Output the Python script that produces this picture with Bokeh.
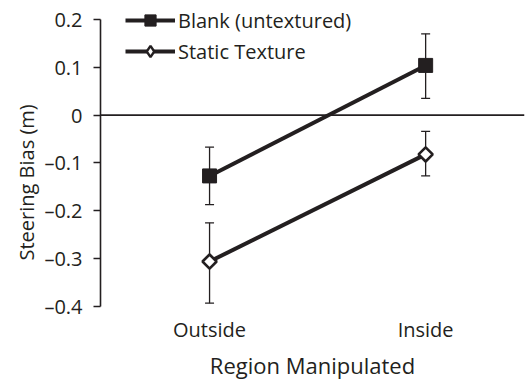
import math
import numpy as np
from bokeh.plotting import figure
from bokeh.models import (ColumnDataSource, Range1d, FixedTicker, CustomJSTickFormatter,
                          Whisker, TeeHead, Span, Legend, LegendItem, Title)
from bokeh.embed import file_html
from bokeh.resources import INLINE

# ---- data ----
regions = ["Outside", "Inside"]
blank = [-0.127, 0.104]
blank_upper = [-0.067, 0.170]
blank_lower = [-0.187, 0.035]
static = [-0.306, -0.082]
static_upper = [-0.225, -0.034]
static_lower = [-0.393, -0.127]
y_ticks = [-0.4, -0.3, -0.2, -0.1, 0, 0.1, 0.2]

INK = "#231f20"
FONT = "Open Sans"

xs = list(range(len(regions)))

p = figure(width=525, height=382, output_backend="svg", toolbar_location=None,
           x_range=Range1d(-0.5047, 1.4575), y_range=Range1d(-0.4, 0.2397),
           min_border_left=100, min_border_right=1, min_border_top=0, min_border_bottom=76)
p.outline_line_color = None
p.grid.visible = False
p.background_fill_color = "white"

# axes
xa = p.xaxis[0]
xa.ticker = FixedTicker(ticks=xs)
xa.major_label_overrides = {i: r for i, r in enumerate(regions)}
xa.axis_line_color = None
xa.major_tick_line_color = None
xa.major_tick_out = 0
xa.major_tick_in = 0
xa.minor_tick_line_color = None
xa.major_label_standoff = 9
xa.major_label_text_font = FONT
xa.major_label_text_font_size = "20px"
xa.major_label_text_color = INK
xa.axis_label = "Region Manipulated"
xa.axis_label_text_font = FONT
xa.axis_label_text_font_size = "22px"
xa.axis_label_text_font_style = "normal"
xa.axis_label_text_color = INK
xa.axis_label_standoff = 4

ya = p.yaxis[0]
ya.ticker = FixedTicker(ticks=y_ticks)
ya.bounds = (-0.4, 0.2)
ya.formatter = CustomJSTickFormatter(code="""
    if (Math.abs(tick) < 1e-9) return "0";
    return tick.toFixed(1).replace("-", "\\u2013");
""")
ya.axis_line_color = INK
ya.axis_line_width = 1.6
ya.major_tick_line_color = INK
ya.major_tick_line_width = 1.6
ya.major_tick_out = 7
ya.major_tick_in = 0
ya.minor_tick_line_color = None
ya.major_label_standoff = 11
ya.major_label_text_font = FONT
ya.major_label_text_font_size = "20px"
ya.major_label_text_color = INK

# y axis title, placed as in the reference (slightly below the frame centre)
p.add_layout(Title(text="Steering Bias (m)", align="left", offset=46, standoff=4,
                   text_font=FONT, text_font_size="20px", text_font_style="normal",
                   text_color=INK), "left")

# zero line
p.add_layout(Span(location=0, dimension="width", line_color=INK, line_width=1.6))

src_b = ColumnDataSource(dict(x=xs, y=blank, up=blank_upper, lo=blank_lower))
src_s = ColumnDataSource(dict(x=xs, y=static, up=static_upper, lo=static_lower))

for src in (src_b, src_s):
    w = Whisker(source=src, base="x", upper="up", lower="lo",
                line_color=INK, line_width=1.3,
                upper_head=TeeHead(size=9, line_color=INK, line_width=1.3),
                lower_head=TeeHead(size=9, line_color=INK, line_width=1.3))
    p.add_layout(w)

lb = p.line("x", "y", source=src_b, line_color=INK, line_width=4)
mb = p.scatter("x", "y", source=src_b, marker="square", size=14,
               fill_color=INK, line_color=INK, line_width=1)
ls = p.line("x", "y", source=src_s, line_color=INK, line_width=4)
ms = p.scatter("x", "y", source=src_s, marker="square", angle=math.pi / 4, size=10,
               fill_color="white", line_color=INK, line_width=2.6)
# legend key for the open diamond (legend keys ignore marker angle)
key_s = p.scatter(x=np.array([np.nan]), y=np.array([np.nan]), marker="diamond",
                  fill_color="white", line_color=INK, line_width=2.4)

legend = Legend(items=[LegendItem(label="Blank (untextured)", renderers=[lb, mb]),
                       LegendItem(label="Static Texture", renderers=[ls, key_s])],
                location=(25, 241), padding=0, margin=0, spacing=3,
                glyph_width=50, glyph_height=28, label_standoff=3,
                label_text_font=FONT, label_text_font_size="20px", label_text_color=INK,
                background_fill_alpha=0, border_line_color=None)
p.add_layout(legend, "center")

open("out.html", "w").write(file_html(p, INLINE))
